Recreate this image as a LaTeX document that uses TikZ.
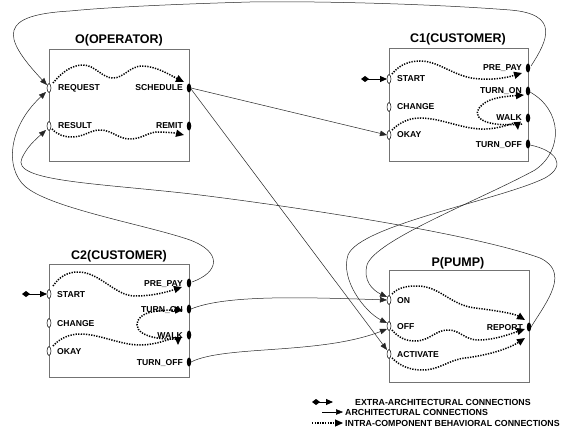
\documentclass[tikz,border=0pt]{standalone}
\usepackage{fontspec}
\setmainfont{Liberation Sans}
\usetikzlibrary{arrows.meta,shapes.geometric}
\begin{document}
\begin{tikzpicture}[x=1pt,y=-1pt,
  box/.style={draw=black!55, line width=0.9pt, rectangle, inner sep=0pt, anchor=north west},
  inport/.style={ellipse, draw=black, fill=white, line width=0.5pt, minimum width=4pt, minimum height=9pt, inner sep=0pt},
  outport/.style={ellipse, fill=black, minimum width=4.5pt, minimum height=9pt, inner sep=0pt},
  lbl/.style={font=\bfseries\fontsize{8.6}{10}\selectfont, inner sep=0pt},
  ttl/.style={font=\bfseries\fontsize{12.5}{14}\selectfont, inner sep=0pt, anchor=base},
  leg/.style={font=\bfseries\fontsize{8.8}{10}\selectfont, inner sep=0pt, anchor=west},
  arch/.style={draw=black!85, line width=0.5pt, -{Triangle[length=7pt,width=5.5pt]}},
  beh/.style={draw=black, line width=1.5pt, dash pattern=on 1.3pt off 1.3pt, -{Triangle[length=8pt,width=7pt]}},
  ext/.style={draw=black, line width=0.9pt, {Diamond[length=8pt,width=6pt]}-{Triangle[length=7pt,width=6pt]}}]
\useasboundingbox (0,0) rectangle (573,433);
\fill[white] (0,0) rectangle (573,433);

% ---------- boxes ----------
\node[box, minimum width=140pt, minimum height=112pt] (O) at (49,49) {};
\node[box, minimum width=139pt, minimum height=113pt] (C1) at (389,48) {};
\node[box, minimum width=140pt, minimum height=113pt] (C2) at (49,264) {};
\node[box, minimum width=140pt, minimum height=112pt] (P) at (389,270) {};
\node[ttl] (Ot) at (119,44) {O(OPERATOR)};
\node[ttl] (C1t) at (458,43) {C1(CUSTOMER)};
\node[ttl] (C2t) at (119,259) {C2(CUSTOMER)};
\node[ttl] (Pt) at (458,266) {P(PUMP)};

% ---------- port coordinates ----------
\coordinate (Oreq) at (49,88);  \coordinate (Ores) at (49,126);
\coordinate (Osch) at (189,88); \coordinate (Orem) at (189,126);
\coordinate (C1start) at (389,79); \coordinate (C1chg) at (389,107); \coordinate (C1okay) at (389,135);
\coordinate (C1pre) at (528,68); \coordinate (C1on) at (528,91); \coordinate (C1walk) at (528,118); \coordinate (C1off) at (528,144);
\coordinate (C2start) at (49,294); \coordinate (C2chg) at (49,323); \coordinate (C2okay) at (49,351);
\coordinate (C2pre) at (189,283); \coordinate (C2on) at (189,309); \coordinate (C2walk) at (189,335); \coordinate (C2off) at (189,362);
\coordinate (Pon) at (389,300); \coordinate (Poff) at (389,326); \coordinate (Pact) at (389,354);
\coordinate (Prep) at (529,327);

% ---------- architectural connections ----------
\draw[arch] (531,66) .. controls (548,40) and (560,14) .. (510,10)
  .. controls (420,3) and (300,1) .. (250,2)
  .. controls (180,4) and (110,7) .. (70,11)
  .. controls (0,15) and (0,35) .. (47,85);
\draw[arch] (192,282) .. controls (220,272) and (222,252) .. (190,240)
  .. controls (150,226) and (60,210) .. (30,190)
  .. controls (5,175) and (5,130) .. (46,92);
\draw[arch] (531,327) .. controls (548,300) and (570,272) .. (540,258)
  .. controls (480,236) and (320,210) .. (200,195)
  .. controls (100,183) and (10,182) .. (22,158)
  .. controls (27,147) and (35,140) .. (46,130);
\draw[arch] (191,88) -- (387,135);
\draw[arch] (191,89) -- (387,350);
\draw[arch] (530,92) .. controls (562,110) and (564,150) .. (535,170)
  .. controls (480,200) and (375,240) .. (367,265)
  .. controls (363,280) and (372,290) .. (387,297);
\draw[arch] (530,145) .. controls (555,150) and (568,165) .. (545,178)
  .. controls (500,200) and (360,225) .. (348,255)
  .. controls (340,280) and (365,312) .. (387,323);
\draw[arch] (191,309) .. controls (225,295) and (300,297) .. (387,300);
\draw[arch] (191,362) .. controls (225,345) and (320,355) .. (387,329);

% ---------- extra-architectural ----------
\coordinate (c1x) at (361,79);
\coordinate (c2x) at (22,294);
\draw[ext] (c1x) -- (387,79);
\draw[ext] (c2x) -- (47,294);

% ---------- intra-component behavioral ----------
\draw[beh] (53,83) .. controls (62,72) and (72,65) .. (83,65) .. controls (95,65) and (102,78) .. (113,78)
  .. controls (124,78) and (130,66) .. (142,66) .. controls (156,66) and (170,75) .. (184,82);
\draw[beh] (52,129) .. controls (58,135) and (64,137) .. (72,137) .. controls (84,137) and (90,130) .. (100,130)
  .. controls (112,130) and (118,139) .. (130,139) .. controls (142,139) and (148,132) .. (158,132)
  .. controls (166,132) and (175,133) .. (184,135);
\draw[beh] (392,74) .. controls (400,64) and (410,61) .. (420,61) .. controls (440,61) and (455,78) .. (480,79)
  .. controls (500,80) and (512,76) .. (522,73);
\draw[beh] (392,130) .. controls (400,122) and (410,118) .. (420,118) .. controls (440,118) and (460,128) .. (480,129)
  .. controls (500,130) and (517,121) .. (518,130);
\draw[beh] (522,124) .. controls (480,128) and (470,115) .. (482,105) .. controls (490,97) and (510,96) .. (524,95);
\draw[beh] (53,286) .. controls (60,276) and (68,272) .. (78,272) .. controls (100,272) and (115,296) .. (135,296)
  .. controls (155,296) and (170,291) .. (182,287);
\draw[beh] (53,346) .. controls (60,338) and (70,334) .. (80,334) .. controls (100,334) and (120,345) .. (140,345)
  .. controls (160,345) and (178,335) .. (178,345);
\draw[beh] (176,339) .. controls (130,340) and (132,320) .. (145,314) .. controls (155,310) and (170,310) .. (183,310);
\draw[beh] (392,294) .. controls (398,288) and (405,286) .. (417,286) .. controls (440,286) and (450,305) .. (475,308)
  .. controls (500,311) and (515,314) .. (525,320);
\draw[beh] (392,330) .. controls (398,337) and (405,341) .. (415,341) .. controls (430,341) and (435,330) .. (448,330)
  .. controls (460,330) and (465,340) .. (478,340) .. controls (495,340) and (510,334) .. (525,329);
\draw[beh] (392,358) .. controls (400,366) and (410,370) .. (422,370) .. controls (440,370) and (448,360) .. (465,358)
  .. controls (490,355) and (510,348) .. (525,338);

% ---------- ports ----------
\foreach \p in {Oreq,Ores,C1start,C1chg,C1okay,C2start,C2chg,C2okay,Pon,Poff,Pact}
  \node[inport] (\p n) at (\p) {};
\foreach \p in {Osch,Orem,C1pre,C1on,C1walk,C1off,C2pre,C2on,C2walk,C2off,Prep}
  \node[outport] (\p n) at (\p) {};

% ---------- port labels ----------
\node[lbl, anchor=base west] (l1) at (58,91) {REQUEST};
\node[lbl, anchor=base west] (l2) at (58,129) {RESULT};
\node[lbl, anchor=base east] (l3) at (183,91) {SCHEDULE};
\node[lbl, anchor=base east] (l4) at (183,129) {REMIT};
\node[lbl, anchor=base west] (l5) at (397,82) {START};
\node[lbl, anchor=base west] (l6) at (397,110) {CHANGE};
\node[lbl, anchor=base west] (l7) at (397,138) {OKAY};
\node[lbl, anchor=base east] (l8) at (522,71) {PRE\_PAY};
\node[lbl, anchor=base east] (l9) at (522,94) {TURN\_ON};
\node[lbl, anchor=base east] (l10) at (522,121) {WALK};
\node[lbl, anchor=base east] (l11) at (522,147) {TURN\_OFF};
\node[lbl, anchor=base west] (l12) at (57,297) {START};
\node[lbl, anchor=base west] (l13) at (57,326) {CHANGE};
\node[lbl, anchor=base west] (l14) at (57,354) {OKAY};
\node[lbl, anchor=base east] (l15) at (183,286) {PRE\_PAY};
\node[lbl, anchor=base east] (l16) at (183,312) {TURN\_ON};
\node[lbl, anchor=base east] (l17) at (183,338) {WALK};
\node[lbl, anchor=base east] (l18) at (183,365) {TURN\_OFF};
\node[lbl, anchor=base west] (l19) at (397,303) {ON};
\node[lbl, anchor=base west] (l20) at (397,329) {OFF};
\node[lbl, anchor=base west] (l21) at (397,357) {ACTIVATE};
\node[lbl, anchor=base east] (l22) at (523,330) {REPORT};

% ---------- legend ----------
\coordinate (g1a) at (312,402); \coordinate (g1b) at (333,402);
\coordinate (g2a) at (322,412); \coordinate (g2b) at (343,412);
\coordinate (g3a) at (312,423); \coordinate (g3b) at (343,423);
\draw[ext] (g1a) -- (g1b);
\draw[arch, draw=black] (g2a) -- (g2b);
\draw[beh, line width=1.2pt] (g3a) -- (g3b);
\node[leg] (t1) at (355,402) {EXTRA-ARCHITECTURAL CONNECTIONS};
\node[leg] (t2) at (345,412) {ARCHITECTURAL CONNECTIONS};
\node[leg] (t3) at (345,423) {INTRA-COMPONENT BEHAVIORAL CONNECTIONS};
\end{tikzpicture}
\end{document}
